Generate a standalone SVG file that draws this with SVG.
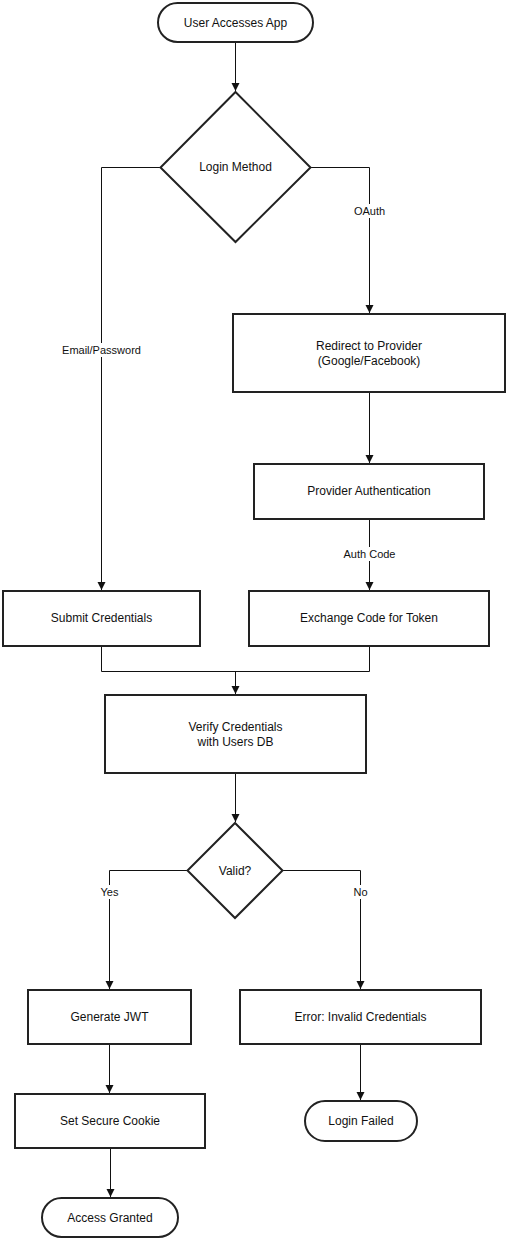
<svg xmlns="http://www.w3.org/2000/svg" width="507" height="1240" viewBox="0 0 507 1240">
  <style>
    .node { fill: #ffffff; stroke: #222222; stroke-width: 2; }
    .lbl { font-family: "Liberation Sans", Arial, sans-serif; font-size: 12px; fill: #111111; text-anchor: middle; }
    .elbl { font-family: "Liberation Sans", Arial, sans-serif; font-size: 11px; fill: #111111; text-anchor: middle; }
    .edge { fill: none; stroke: #111111; stroke-width: 1; }
    .bg { fill: #ffffff; }
  </style>
  <defs>
    <marker id="arrow" markerUnits="userSpaceOnUse" markerWidth="10" markerHeight="10" refX="8" refY="4" orient="auto">
      <path d="M0,0 L8,4 L0,8 z" fill="#111111"/>
    </marker>
  </defs>
  <rect width="507" height="1240" fill="#ffffff"/>

  <!-- connectors -->
  <g id="edges">
    <path class="edge" d="M235.5,42 V91" marker-end="url(#arrow)"/>
    <path class="edge" d="M160,167.5 H101.5 V590" marker-end="url(#arrow)"/>
    <path class="edge" d="M311,167.5 H369.5 V313" marker-end="url(#arrow)"/>
    <path class="edge" d="M369.5,392 V463" marker-end="url(#arrow)"/>
    <path class="edge" d="M369.5,519 V590" marker-end="url(#arrow)"/>
    <path class="edge" d="M101.5,646 V671.5 H369.5 V646"/>
    <path class="edge" d="M235.5,671.5 V694" marker-end="url(#arrow)"/>
    <path class="edge" d="M235.5,773 V822" marker-end="url(#arrow)"/>
    <path class="edge" d="M187,870.5 H109.5 V989" marker-end="url(#arrow)"/>
    <path class="edge" d="M283,870.5 H360.5 V989" marker-end="url(#arrow)"/>
    <path class="edge" d="M109.5,1044 V1093" marker-end="url(#arrow)"/>
    <path class="edge" d="M360.5,1044 V1100" marker-end="url(#arrow)"/>
    <path class="edge" d="M110.5,1148 V1197" marker-end="url(#arrow)"/>

    <!-- edge labels -->
    <rect class="bg" x="60" y="343" width="83" height="14"/>
    <text class="elbl" x="101.5" y="354">Email/Password</text>
    <rect class="bg" x="352" y="204" width="35" height="14"/>
    <text class="elbl" x="369.5" y="215">OAuth</text>
    <rect class="bg" x="341" y="547" width="57" height="14"/>
    <text class="elbl" x="369.5" y="558">Auth Code</text>
    <rect class="bg" x="99" y="885" width="21" height="14"/>
    <text class="elbl" x="109.5" y="896">Yes</text>
    <rect class="bg" x="352" y="885" width="17" height="14"/>
    <text class="elbl" x="360.5" y="896">No</text>
  </g>

  <g id="start">
    <rect class="node" x="158" y="3" width="155" height="39" rx="19.5" ry="19.5"/>
    <text class="lbl" x="235.5" y="27">User Accesses App</text>
  </g>
  <g id="login-method">
    <polygon class="node" points="235.5,92 310.5,167.5 235.5,242 160.5,167.5"/>
    <text class="lbl" x="235.5" y="171">Login Method</text>
  </g>
  <g id="redirect">
    <rect class="node" x="233" y="314" width="272" height="78"/>
    <text class="lbl" x="369" y="350">Redirect to Provider</text>
    <text class="lbl" x="369" y="365">(Google/Facebook)</text>
  </g>
  <g id="provider-auth">
    <rect class="node" x="254" y="464" width="230" height="55"/>
    <text class="lbl" x="369" y="495">Provider Authentication</text>
  </g>
  <g id="submit">
    <rect class="node" x="3" y="591" width="197" height="55"/>
    <text class="lbl" x="101.5" y="622">Submit Credentials</text>
  </g>
  <g id="exchange">
    <rect class="node" x="249" y="591" width="240" height="55"/>
    <text class="lbl" x="369" y="622">Exchange Code for Token</text>
  </g>
  <g id="verify">
    <rect class="node" x="105" y="695" width="261" height="78"/>
    <text class="lbl" x="235.5" y="731">Verify Credentials</text>
    <text class="lbl" x="235.5" y="746">with Users DB</text>
  </g>
  <g id="valid">
    <polygon class="node" points="235,823 282.5,870.5 235,918 187.5,870.5"/>
    <text class="lbl" x="235" y="874.5">Valid?</text>
  </g>
  <g id="generate-jwt">
    <rect class="node" x="28" y="990" width="163" height="54"/>
    <text class="lbl" x="109.5" y="1021">Generate JWT</text>
  </g>
  <g id="error">
    <rect class="node" x="240" y="990" width="241" height="54"/>
    <text class="lbl" x="360.5" y="1021">Error: Invalid Credentials</text>
  </g>
  <g id="set-cookie">
    <rect class="node" x="15" y="1094" width="190" height="54"/>
    <text class="lbl" x="110" y="1125">Set Secure Cookie</text>
  </g>
  <g id="login-failed">
    <rect class="node" x="305" y="1101" width="112" height="40" rx="20" ry="20"/>
    <text class="lbl" x="361" y="1125">Login Failed</text>
  </g>
  <g id="access-granted">
    <rect class="node" x="42" y="1198" width="136" height="39" rx="19.5" ry="19.5"/>
    <text class="lbl" x="110" y="1222">Access Granted</text>
  </g>
</svg>
